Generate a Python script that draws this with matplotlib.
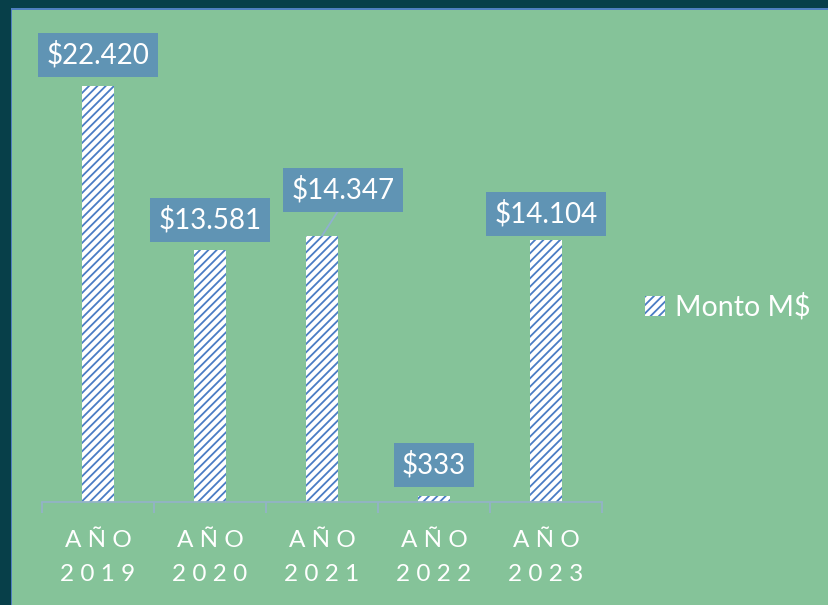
import numpy as np
import matplotlib.pyplot as plt
from matplotlib.patches import Rectangle, Patch

# datos
anios = ['2019', '2020', '2021', '2022', '2023']
montos = [22420, 13581, 14347, 333, 14104]
etiquetas = ['$22.420', '$13.581', '$14.347', '$333', '$14.104']
serie = 'Monto M$'

verde = '#85c399'
azul_caja = '#6094b4'
azul_hatch = '#4a7cc4'
borde = '#073f49'

plt.rcParams['font.family'] = ['Lato', 'DejaVu Sans']
plt.rcParams['hatch.linewidth'] = 1.3

W, H = 829, 605
fig = plt.figure(figsize=(W / 100, H / 100), dpi=100)
fig.patch.set_facecolor(verde)

# marco oscuro arriba e izquierda
fig.patches.append(Rectangle((0, 1 - 8 / H), 1, 8 / H, transform=fig.transFigure,
                             facecolor=borde, edgecolor='none', zorder=0))
fig.patches.append(Rectangle((0, 0), 11 / W, 1, transform=fig.transFigure,
                             facecolor=borde, edgecolor='none', zorder=0))
fig.patches.append(Rectangle((11 / W, 1 - 9.5 / H), 1, 1.5 / H, transform=fig.transFigure,
                             facecolor='#4f7fbf', edgecolor='none', zorder=1))
fig.patches.append(Rectangle((11 / W, 0), 1.5 / W, 1 - 8 / H, transform=fig.transFigure,
                             facecolor='#4f7fbf', edgecolor='none', zorder=1))

ax = fig.add_axes([42 / W, 103 / H, 560 / W, 482 / H])
ax.set_facecolor('none')

x = np.arange(len(anios))
barras = ax.bar(x, montos, width=0.28, color='white', edgecolor=azul_hatch,
                linewidth=0, hatch='////', zorder=2)

ax.set_xlim(-0.5, len(anios) - 0.5)
ax.set_ylim(0, 25970)

for s in ['top', 'right', 'left']:
    ax.spines[s].set_visible(False)
ax.spines['bottom'].set_color('#93b3c6')
ax.spines['bottom'].set_linewidth(1.3)
ax.set_yticks([])

ax.set_xticks(x)
ax.set_xticklabels(['A Ñ O\n' + ' '.join(a) for a in anios], color='white',
                   fontsize=17.5, linespacing=1.75)
ax.tick_params(axis='x', which='major', length=0, pad=20)
ax.set_xticks(np.arange(-0.5, len(anios)), minor=True)
ax.tick_params(axis='x', which='minor', length=8, width=1.3, color='#93b3c6')

# etiquetas de datos (desplazamiento en px sobre la barra)
desp = [(0, 31), (0, 30), (21, 46), (0, 31), (0, 26)]
for i, (m, t) in enumerate(zip(montos, etiquetas)):
    dx, dy = desp[i]
    props = None
    if dx != 0:
        props = dict(arrowstyle='-', color='#8fb0d0', lw=1.3, shrinkA=0, shrinkB=0,
                     relpos=(0.5, 0))
    ax.annotate(t, xy=(x[i], m), xytext=(dx * 0.72, dy * 0.72),
                textcoords='offset points', ha='center', va='center',
                fontsize=20, color='white', zorder=4,
                bbox=dict(boxstyle='square,pad=0.3', facecolor=azul_caja,
                          edgecolor='none'),
                arrowprops=props)

leyenda = Patch(facecolor='white', edgecolor=azul_hatch, linewidth=0, hatch='////',
                label=serie)
fig.legend(handles=[leyenda], loc='center left', bbox_to_anchor=(645 / W, 1 - 307 / H),
           frameon=False, fontsize=20.5, labelcolor='white', handlelength=0.7,
           handleheight=0.7, handletextpad=0.35, borderpad=0, borderaxespad=0)

fig.savefig('out.png', dpi=100, facecolor=verde)
